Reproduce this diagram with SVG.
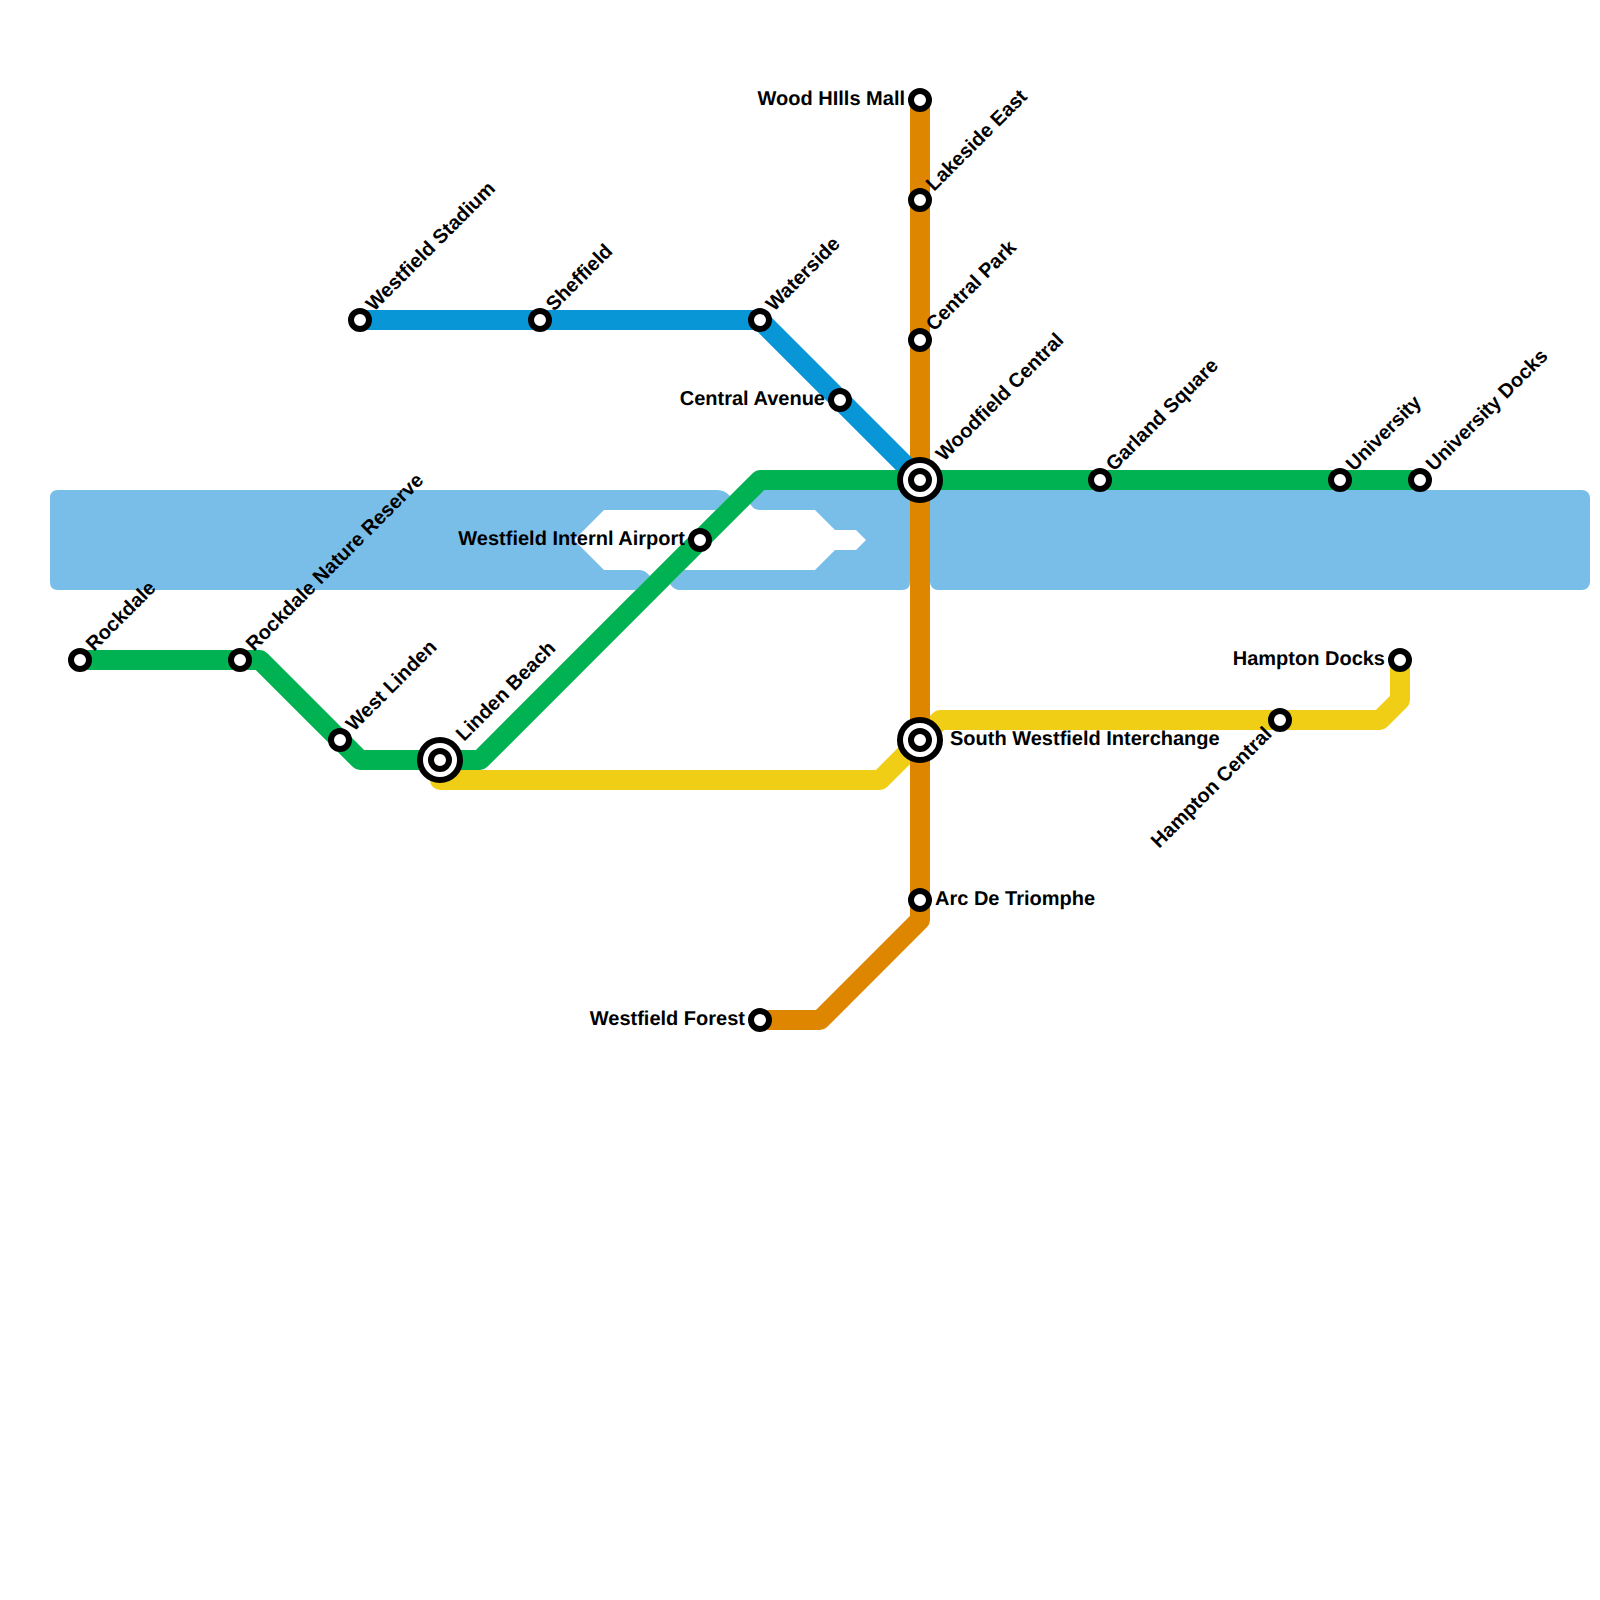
<svg xmlns="http://www.w3.org/2000/svg" width="1600" height="1600" viewBox="0 0 1600 1600">
<style>
text{font-family:"Liberation Sans",Arial,sans-serif;font-weight:700;font-size:20px;fill:#000;text-rendering:geometricPrecision}
.e{text-anchor:end}
.w{fill:#79bde9}
.l{fill:none;stroke-width:20;stroke-linejoin:round;stroke-linecap:butt}
.s{fill:#fff;stroke:#000;stroke-width:6}
.o{fill:#fff;stroke:#000;stroke-width:6}
</style>
<defs>
<g id="st"><circle class="s" r="9"/></g>
<g id="ic"><circle class="o" r="20"/><circle class="s" r="9"/></g>
</defs>
<g id="water">
<path class="w" d="M58,490H717Q725,490 730,496L716,510H604L574,540L604,570H640Q645,570 650,576L636,590H58Q50,590 50,582V498Q50,490 58,490Z"/>
<path class="w" d="M760,480H910V582Q910,590 902,590H680Q674,590 670,584L684,570H815L835,550H856L866,540L856,530H835L815,510H760Q752,510 748,500Z"/>
<rect class="w" x="930" y="490" width="660" height="100" rx="8"/>
</g>
<g id="connectors">
<path class="l" stroke="#f0ce15" style="stroke-linecap:round" d="M440,780H880L940,720H1380L1400,700V660"/>
<path class="l" stroke="#df8600" d="M920,100V920L820,1020H760"/>
<path class="l" stroke="#0896d7" d="M360,320H760L920,480"/>
<path class="l" stroke="#00b251" d="M80,660H260L360,760H480L760,480H1420"/>
</g>
<g id="wood-hills-mall"><use href="#st" x="920" y="100"/><text class="e" x="905" y="105">Wood HIlls Mall</text></g>
<g id="lakeside-east"><use href="#st" x="920" y="200"/><text transform="translate(934,192) rotate(-45)">Lakeside East</text></g>
<g id="central-park"><use href="#st" x="920" y="340"/><text transform="translate(934,332) rotate(-45)">Central Park</text></g>
<g id="woodfield-central"><use href="#ic" x="920" y="480"/><text transform="translate(944,462) rotate(-45)">Woodfield Central</text></g>
<g id="south-westfield-interchange"><use href="#ic" x="920" y="740"/><text x="950" y="745">South Westfield Interchange</text></g>
<g id="arc-de-triomphe"><use href="#st" x="920" y="900"/><text x="935" y="905">Arc De Triomphe</text></g>
<g id="westfield-forest"><use href="#st" x="760" y="1020"/><text class="e" x="745" y="1025">Westfield Forest</text></g>
<g id="central-avenue"><use href="#st" x="840" y="400"/><text class="e" x="825" y="405">Central Avenue</text></g>
<g id="waterside"><use href="#st" x="760" y="320"/><text transform="translate(774,312) rotate(-45)">Waterside</text></g>
<g id="sheffield"><use href="#st" x="540" y="320"/><text transform="translate(554,312) rotate(-45)">Sheffield</text></g>
<g id="westfield-stadium"><use href="#st" x="360" y="320"/><text transform="translate(374,312) rotate(-45)">Westfield Stadium</text></g>
<g id="westfield-internl-airport"><use href="#st" x="700" y="540"/><text class="e" x="685" y="545">Westfield Internl Airport</text></g>
<g id="rockdale"><use href="#st" x="80" y="660"/><text transform="translate(94,652) rotate(-45)">Rockdale</text></g>
<g id="rockdale-nature-reserve"><use href="#st" x="240" y="660"/><text transform="translate(254,652) rotate(-45)">Rockdale Nature Reserve</text></g>
<g id="west-linden"><use href="#st" x="340" y="740"/><text transform="translate(354,732) rotate(-45)">West Linden</text></g>
<g id="linden-beach"><use href="#ic" x="440" y="760"/><text transform="translate(464,742) rotate(-45)">Linden Beach</text></g>
<g id="garland-square"><use href="#st" x="1100" y="480"/><text transform="translate(1114,472) rotate(-45)">Garland Square</text></g>
<g id="university"><use href="#st" x="1340" y="480"/><text transform="translate(1354,472) rotate(-45)">University</text></g>
<g id="university-docks"><use href="#st" x="1420" y="480"/><text transform="translate(1434,472) rotate(-45)">University Docks</text></g>
<g id="hampton-docks"><use href="#st" x="1400" y="660"/><text class="e" x="1385" y="665">Hampton Docks</text></g>
<g id="hampton-central"><use href="#st" x="1280" y="720"/><text class="e" transform="translate(1273,735) rotate(-45)">Hampton Central</text></g>
</svg>
